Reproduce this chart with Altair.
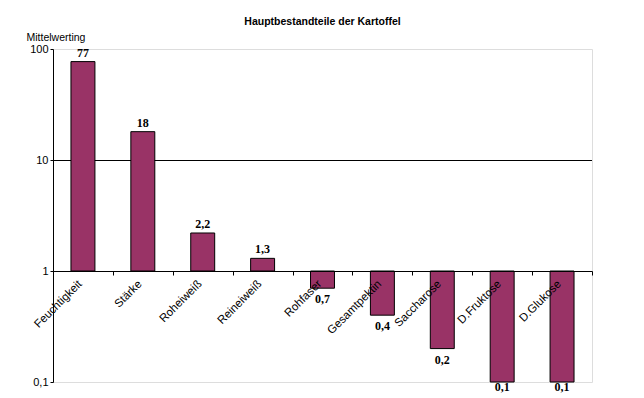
import altair as alt
import pandas as pd

categories = ["Feuchtigkeit", "Stärke", "Roheiweiß", "Reineiweiß", "Rohfaser",
              "Gesamtpektin", "Saccharose", "D.Fruktose", "D.Glukose"]
values = [77, 18, 2.2, 1.3, 0.7, 0.4, 0.2, 0.1, 0.1]
y_ticks = [0.1, 1, 10, 100]

df = pd.DataFrame({
    "cat": categories,
    "val": values,
    "lab": [f"{v:g}".replace(".", ",") for v in values],
})

W, H = 539, 333
FONT = "Liberation Sans"
COLOR = "#993366"

x_enc = alt.X("cat:N", sort=None,
              scale=alt.Scale(paddingInner=0, paddingOuter=0),
              axis=alt.Axis(title=None, offset=-H / 3, domainColor="black",
                            tickColor="black", tickSize=4, tickBand="extent",
                            labelAngle=-45, labelAlign="right", labelBaseline="middle",
                            labelFont=FONT, labelFontSize=11.5, zindex=1,
                            labelColor="black", labelPadding=7, labelOffset=-3))
y_scale = alt.Scale(type="log", domain=[0.1, 100])

bars = alt.Chart(df).mark_bar(color=COLOR, stroke="black", strokeWidth=1,
                              width=alt.RelativeBandSize(0.4)).encode(
    x=x_enc,
    y=alt.Y("val:Q", scale=y_scale,
            axis=alt.Axis(values=y_ticks, labelExpr="replace(format(datum.value, '~g'), '.', ',')",
                          grid=False, domainColor="black", tickColor="black", tickSize=3,
                          labelFont=FONT, labelFontSize=11, labelColor="black", labelPadding=2,
                          title="Mittelwerting", titleAngle=0, titleX=-27, titleY=-12,
                          titleAlign="left", titleBaseline="middle", titleFont=FONT,
                          titleFontSize=10.5, titleFontWeight="normal", titleColor="black")),
    y2=alt.datum(1),
)

grid10 = alt.Chart(df).mark_rule(color="black", strokeWidth=1, yOffset=0.5).encode(
    y=alt.datum(10, scale=y_scale)
)

text_style = dict(font="Liberation Serif", fontWeight="bold", fontSize=12, color="black")
enc = dict(x=alt.X("cat:N", sort=None), y="val:Q", text="lab:N")

above = alt.Chart(df).transform_filter("datum.val > 1").mark_text(
    baseline="bottom", dy=-2, **text_style).encode(**enc)
below = alt.Chart(df).transform_filter("datum.val < 1 && datum.val > 0.1").mark_text(
    baseline="top", dy=6, **text_style).encode(**enc)
bottom = alt.Chart(df).transform_filter("datum.val <= 0.1").mark_text(
    baseline="top", dy=0, **text_style).encode(**enc)

chart = alt.layer(grid10, bars, above, below, bottom).properties(
    width=W, height=H,
    title=alt.TitleParams("Hauptbestandteile der Kartoffel", font=FONT, fontSize=10.5,
                          fontWeight="bold", anchor="middle", offset=5, color="black"),
    autosize=alt.AutoSizeParams(type="none"),
    padding={"left": 45, "top": 41, "right": 44, "bottom": 16},
).configure_view(stroke="#808080", strokeWidth=1).configure(background="white")

chart.save("out.html", embed_options={"renderer": "svg", "actions": False})
